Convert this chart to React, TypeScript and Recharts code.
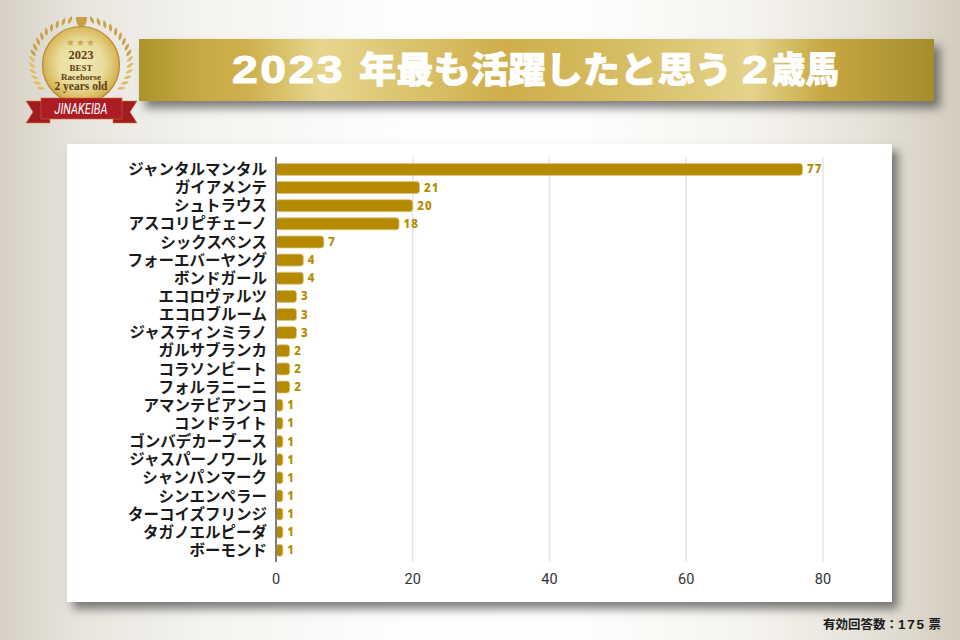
import React from "react";
import { BarChart, Bar, XAxis, YAxis, CartesianGrid, LabelList } from "recharts";

const horses = ["ジャンタルマンタル","ガイアメンテ","シュトラウス","アスコリピチェーノ","シックスペンス","フォーエバーヤング","ボンドガール","エコロヴァルツ","エコロブルーム","ジャスティンミラノ","ガルサブランカ","コラソンビート","フォルラニーニ","アマンテビアンコ","コンドライト","ゴンバデカーブース","ジャスパーノワール","シャンパンマーク","シンエンペラー","ターコイズフリンジ","タガノエルピーダ","ボーモンド"];
const votes = [77,21,20,18,7,4,4,3,3,3,2,2,2,1,1,1,1,1,1,1,1,1];
const xTicks = [0,20,40,60,80];
const titleYear = "2023";
const titleMiddle = "年最も活躍したと思う";
const titleAge = "2";
const titleEnd = "歳馬";
const rows = horses.map((name, i) => ({ name, votes: votes[i] }));

const JP = '"Noto Sans CJK JP", "Noto Sans", sans-serif';
const LATIN = '"Liberation Sans", sans-serif';
const leafAngles = [103,111,119,127,135,143,151,159,167,175,183,191,199,207,215];

function Badge() {
  const leaves: React.ReactNode[] = [];
  leafAngles.forEach((a, i) => {
    const r = (a * Math.PI) / 180;
    const x = 49 * Math.cos(r);
    const y = 63 - 44 * Math.sin(r);
    const rot = 90 - a + 40;
    const d = "M0 -5.5C2.6 -2.5 2.6 2.5 0 5C-2.6 2.5 -2.6 -2.5 0 -5.5Z";
    const col = a > 170 ? "#e0bf62" : "#c9a247";
    leaves.push(<path key={"l" + i} d={d} fill={col} transform={`translate(${81 + x} ${y}) rotate(${rot}) scale(0.8)`} />);
    leaves.push(<path key={"r" + i} d={d} fill={col} transform={`translate(${81 - x} ${y}) rotate(${-rot}) scale(0.8)`} />);
  });
  return (
    <svg width={160} height={130} style={{ position: "absolute", left: 0, top: 0 }}>
      <defs>
        <radialGradient id="coin" cx="50%" cy="48%" r="55%">
          <stop offset="0%" stopColor="#f0ebb8" />
          <stop offset="55%" stopColor="#e9dc9c" />
          <stop offset="85%" stopColor="#d9b95c" />
          <stop offset="100%" stopColor="#bf9238" />
        </radialGradient>
      </defs>
      {leaves}
      <path d="M76 17h11c0 6-2 9-4 10v1h2v1h-7v-1h2v-1c-2-1-4-4-4-10z" fill="#c79f45" />
      <circle cx={81} cy={65} r={38.5} fill="url(#coin)" stroke="#b98a30" strokeWidth={1.2} />
      <text x={81} y={46} textAnchor="middle" fontSize={10} fill="#cda751" letterSpacing={1}>★★★</text>
      <g fontFamily='"Liberation Serif", serif' fontWeight={700} fill="#5f3d17" textAnchor="middle">
        <text x={81} y={59} fontSize={12.5}>2023</text>
        <text x={81} y={71} fontSize={9}>BEST</text>
        <text x={81} y={80} fontSize={9}>Racehorse</text>
        <text x={81} y={90} fontSize={11.5}>2 years old</text>
      </g>
      <path d="M26 101H50V123H26L33 112Z" fill="#a01c22" stroke="#c9862e" strokeWidth={0.6} />
      <path d="M137 101H113V123H137L130 112Z" fill="#a01c22" stroke="#c9862e" strokeWidth={0.6} />
      <rect x={41} y={98} width={81} height={21} fill="#ac1c24" stroke="#c9683a" strokeWidth={0.6} />
      <text x={81} y={114} textAnchor="middle" fontSize={15} fontStyle="italic" fontFamily="Roboto, sans-serif" fill="#fff" textLength={53} lengthAdjust="spacingAndGlyphs">JINAKEIBA</text>
    </svg>
  );
}

function ValueLabel(props: any) {
  const { x, y, width, height, value } = props;
  return (
    <text x={x + width + 4.5} y={y + height / 2 + 4} fontFamily='"Noto Sans", sans-serif' fontWeight={800} fontSize={11.5} letterSpacing={1} fill="#b58a00">
      {value}
    </text>
  );
}

export default function App() {
  return (
    <div
      style={{
        position: "fixed", left: 0, top: 0, width: 960, height: 640, overflow: "hidden",
        background: "linear-gradient(90deg,#d6d1c4 0%,#e9e6df 9%,#f5f4f1 22%,#fdfdfc 40%,#fefefd 60%,#f6f4f0 78%,#e5e1d7 91%,#d3cdbe 100%)",
      }}
    >
      <div
        style={{
          position: "absolute", left: 139, top: 39, width: 795, height: 62,
          background: "linear-gradient(90deg,#ac9428 0%,#c8aa45 8%,#cfb04e 14%,#e6d68e 23%,#cfae4a 46%,#d6bc62 60%,#e4d38b 77%,#c8a843 86%,#a68d2c 100%)",
          boxShadow: "6px 7px 9px rgba(60,60,60,0.65)",
        }}
      >
        <svg width={795} height={62} style={{ position: "absolute", left: 0, top: 0 }}>
          <g fill="#fff" stroke="#fff" fontWeight={900}>
            <text transform="translate(93 44) scale(1.22 1)" strokeWidth={1} fontFamily={LATIN} fontSize={38} letterSpacing={2}>{titleYear}</text>
            <text x={220} y={44} textLength={373} lengthAdjust="spacingAndGlyphs" strokeWidth={0.7} fontFamily={JP} fontSize={36}>{titleMiddle}</text>
            <text transform="translate(603 44) scale(1.22 1)" strokeWidth={1} fontFamily={LATIN} fontSize={38}>{titleAge}</text>
            <text x={633} y={44} textLength={67} lengthAdjust="spacingAndGlyphs" strokeWidth={0.7} fontFamily={JP} fontSize={36}>{titleEnd}</text>
          </g>
        </svg>
      </div>
      <Badge />
      <div style={{ position: "absolute", left: 67, top: 144, width: 825, height: 458, background: "#fff", boxShadow: "6px 7px 9px rgba(60,60,60,0.65)" }}>
        <BarChart
          width={825}
          height={458}
          data={rows}
          layout="vertical"
          margin={{ top: 13, right: 69, bottom: 0, left: 0 }}
          barSize={12}
        >
          <CartesianGrid horizontal={false} vertical stroke="#e6e6e6" strokeWidth={1.5} />
          <XAxis
            type="number"
            domain={[0, 80]}
            ticks={xTicks}
            axisLine={false}
            tickLine={false}
            height={40}
            tickMargin={6}
            tick={{ fontFamily: "Roboto, sans-serif", fontSize: 14.5, fill: "#333" }}
          />
          <YAxis
            type="category"
            dataKey="name"
            width={209}
            interval={0}
            padding={{ top: 3.4, bottom: 2.5 }}
            axisLine={{ stroke: "#7f7f7f", strokeWidth: 2 }}
            tickLine={false}
            tickSize={0}
            tickMargin={9}
            tick={{ fontFamily: JP, fontWeight: 700, fontSize: 15.5, fill: "#1a1a1a" }}
          />
          <Bar dataKey="votes" fill="#b58a00" stroke="#dcc77e" strokeWidth={0.8} radius={3} isAnimationActive={false}>
            <LabelList dataKey="votes" content={<ValueLabel />} />
          </Bar>
        </BarChart>
      </div>
      <div style={{ position: "absolute", left: 823, top: 614, fontFamily: JP, fontWeight: 700, fontSize: 12.5, color: "#1a1a1a", whiteSpace: "nowrap" }}>
        有効回答数：<span style={{ fontFamily: LATIN, fontSize: 13.5, letterSpacing: 1.7 }}>175</span> 票
      </div>
    </div>
  );
}
